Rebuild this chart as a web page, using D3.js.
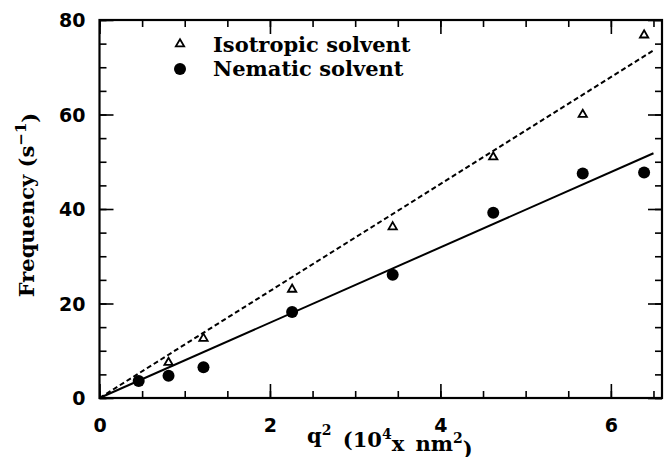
<!DOCTYPE html>
<html>
<head>
<meta charset="utf-8">
<script src="https://cdn.jsdelivr.net/npm/d3@7"></script>
<style>
  body { margin: 0; background: #fff; }
  .tick text { font-family: "DejaVu Sans", sans-serif; font-weight: bold; font-size: 19px; fill: #000; }
  .lbl { font-family: "DejaVu Serif", serif; font-weight: bold; fill: #000; }
</style>
</head>
<body>
<div id="chart"></div>
<script>
// Data
var qSquared = [0.46, 0.81, 1.22, 2.26, 3.44, 4.62, 5.67, 6.39];
var isotropic = [null, 7.5, 12.6, 23.0, 36.2, 51.0, 60.0, 76.8];
var nematic = [3.6, 4.7, 6.5, 18.2, 26.1, 39.2, 47.5, 47.7];

// fitted slopes (through the origin)
var isoSlope = 11.32;
var nemSlope = 7.97;
var fitEnd = 6.5;

var xTicks = [0, 2, 4, 6];
var yTicks = [0, 20, 40, 60, 80];
var legendNames = ["Isotropic solvent", "Nematic solvent"];

// SVG area
var svgWidth = 672;
var svgHeight = 457;

var margin = { top: 20, right: 10, bottom: 59, left: 99.5 };

var svg = d3.select("#chart")
  .append("svg")
  .attr("width", svgWidth)
  .attr("height", svgHeight);

var chartGroup = svg.append("g")
  .attr("transform", `translate(${margin.left}, ${margin.top})`);

// scales
var xScale = d3.scaleLinear().domain([0, 6.6]).range([0, 562.5]);
var yScale = d3.scaleLinear().domain([0, 80]).range([378, 0]);
var plotW = xScale(6.6);
var plotH = yScale(0);

var xMinor = d3.range(0, 6.6, 0.5);
var yMinor = d3.range(0, 81, 5);

function styleAxis(g) {
  g.select(".domain").remove();
  g.selectAll(".tick line").attr("stroke", "#000").attr("stroke-width", 1.6);
}

// minor ticks on all four sides
chartGroup.append("g").attr("transform", `translate(0, ${plotH})`)
  .call(d3.axisBottom(xScale).tickValues(xMinor).tickSize(-7).tickFormat("")).call(styleAxis);
chartGroup.append("g")
  .call(d3.axisTop(xScale).tickValues(xMinor).tickSize(-7).tickFormat("")).call(styleAxis);
chartGroup.append("g")
  .call(d3.axisLeft(yScale).tickValues(yMinor).tickSize(-7).tickFormat("")).call(styleAxis);
chartGroup.append("g").attr("transform", `translate(${plotW}, 0)`)
  .call(d3.axisRight(yScale).tickValues(yMinor).tickSize(-7).tickFormat("")).call(styleAxis);

// major ticks
chartGroup.append("g").attr("transform", `translate(0, ${plotH})`)
  .call(d3.axisBottom(xScale).tickValues(xTicks).tickSize(-14).tickPadding(14).tickFormat(d3.format("d")))
  .call(styleAxis)
  .call(g => g.selectAll(".tick text").attr("dy", "1.05em"));
chartGroup.append("g")
  .call(d3.axisTop(xScale).tickValues(xTicks).tickSize(-14).tickFormat("")).call(styleAxis);
chartGroup.append("g")
  .call(d3.axisLeft(yScale).tickValues(yTicks).tickSize(-14).tickPadding(14).tickFormat(d3.format("d")))
  .call(styleAxis)
  .call(g => g.selectAll(".tick text").attr("dy", "0.36em"));
chartGroup.append("g").attr("transform", `translate(${plotW}, 0)`)
  .call(d3.axisRight(yScale).tickValues(yTicks).tickSize(-14).tickFormat("")).call(styleAxis);

// frame
chartGroup.append("rect")
  .attr("x", 0).attr("y", 0)
  .attr("width", plotW).attr("height", plotH)
  .attr("fill", "none").attr("stroke", "#000").attr("stroke-width", 2.2);

// fit lines
var line = d3.line().x(d => xScale(d[0])).y(d => yScale(d[1]));
chartGroup.append("path")
  .datum([[0, 0], [fitEnd, isoSlope * fitEnd]])
  .attr("d", line)
  .attr("fill", "none").attr("stroke", "#000").attr("stroke-width", 2)
  .attr("stroke-dasharray", "5,3");
chartGroup.append("path")
  .datum([[0, 0], [fitEnd, nemSlope * fitEnd]])
  .attr("d", line)
  .attr("fill", "none").attr("stroke", "#000").attr("stroke-width", 2);

// points
var triangle = d3.symbol().type(d3.symbolTriangle).size(30);
var isoData = qSquared.map((q, i) => ({ x: q, y: isotropic[i] })).filter(d => d.y !== null);
var nemData = qSquared.map((q, i) => ({ x: q, y: nematic[i] }));

chartGroup.append("g").selectAll("path")
  .data(isoData)
  .enter()
  .append("path")
  .attr("d", triangle)
  .attr("transform", d => `translate(${xScale(d.x)}, ${yScale(d.y)})`)
  .attr("fill", "#fff").attr("stroke", "#000").attr("stroke-width", 1.8);

chartGroup.append("g").selectAll("circle")
  .data(nemData)
  .enter()
  .append("circle")
  .attr("cx", d => xScale(d.x))
  .attr("cy", d => yScale(d.y))
  .attr("r", 6)
  .attr("fill", "#000");

// legend
var legend = svg.append("g");
legend.append("path")
  .attr("d", triangle)
  .attr("transform", "translate(180, 44)")
  .attr("fill", "#fff").attr("stroke", "#000").attr("stroke-width", 1.8);
legend.append("circle")
  .attr("cx", 180).attr("cy", 69).attr("r", 6).attr("fill", "#000");
legend.selectAll("text")
  .data(legendNames)
  .enter()
  .append("text")
  .attr("class", "lbl")
  .attr("x", 213)
  .attr("y", (d, i) => 52 + i * 24)
  .attr("font-size", "21px")
  .text(d => d);

// axis labels
var yLabel = svg.append("text")
  .attr("class", "lbl")
  .attr("transform", "translate(34, 205) rotate(-90)")
  .attr("text-anchor", "middle")
  .attr("font-size", "21px");
yLabel.append("tspan").text("Frequency (s");
yLabel.append("tspan").attr("dy", "-0.55em").attr("font-size", "15px").text("−1");
yLabel.append("tspan").attr("dy", "0.55em").text(")");

var xLabel = svg.append("text")
  .attr("class", "lbl")
  .attr("x", 307)
  .attr("y", 443)
  .attr("font-size", "21px")
  .attr("word-spacing", "4px");
xLabel.append("tspan").text("q");
xLabel.append("tspan").attr("dy", "-0.6em").attr("font-size", "14px").text("2");
xLabel.append("tspan").attr("dy", "0.6em").text(" (10");
xLabel.append("tspan").attr("dy", "-0.6em").attr("font-size", "14px").text("4");
xLabel.append("tspan").attr("dy", "0.6em").text("x nm");
xLabel.append("tspan").attr("dy", "-0.6em").attr("font-size", "14px").text("2");
xLabel.append("tspan").attr("dy", "0.6em").text(")");
</script>
</body>
</html>
